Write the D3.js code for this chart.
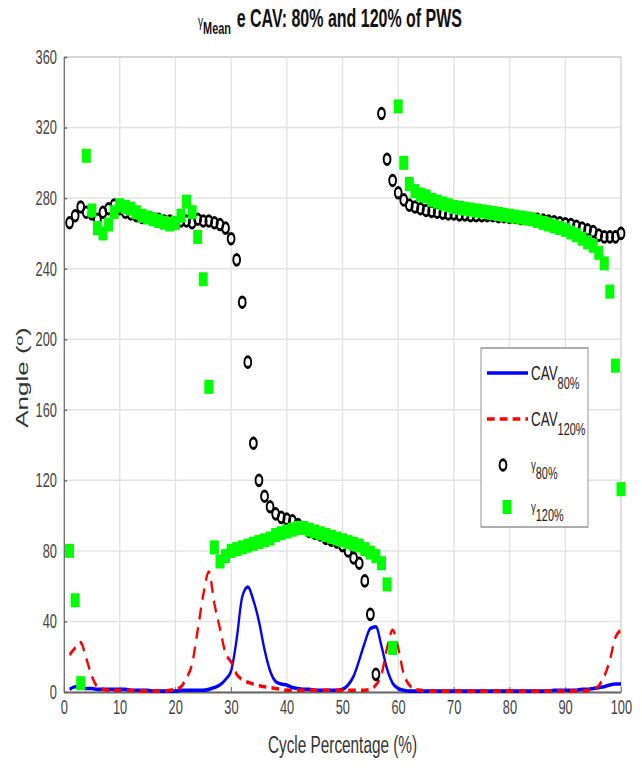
<!DOCTYPE html>
<html>
<head>
<meta charset="utf-8">
<script src="https://cdn.jsdelivr.net/npm/d3@7"></script>
<style>
  body { margin: 0; background: #fff; }
  svg { display: block; }
  text { font-family: "Liberation Sans", Arial, sans-serif; }
</style>
</head>
<body>
<svg id="chart" width="642" height="776"></svg>
<script>
// ====================================
// Données
// ====================================
const cycle = d3.range(1, 101);   // % du cycle, 1..100

const cav80 = [
  1.5, 3, 2.5, 2, 2, 1.5, 1.5, 1.5, 1.5, 1.5,
  1.5, 1, 1, 1, 1, 0.5, 0.5, 0.5, 0.5, 0.5,
  1, 1, 1, 1, 1, 1.5, 2.5, 4, 7, 12,
  30, 54, 59.5, 52, 40, 24, 12, 6, 4.5, 4,
  2.5, 2, 1.5, 1.5, 1, 1, 1, 1, 1, 1.5,
  4, 9, 18, 28, 36, 37, 26, 13, 5, 2,
  1, 0.5, 0.5, 0.5, 0.5, 0.5, 0.5, 0.5, 0.5, 0.5,
  0.5, 0.5, 0.5, 0.5, 0.5, 0.5, 0.5, 0.5, 0.5, 0.5,
  0.5, 0.5, 0.5, 0.5, 0.5, 0.5, 0.5, 1, 1, 1,
  1, 1, 1.5, 1.5, 2, 2.5, 3, 4, 4.5, 4.5
];

const cav120 = [
  21, 25, 28, 19, 9, 3, 1.5, 1, 1, 1,
  1, 1, 0.5, 0.5, 0.5, 0.5, 0.5, 0.5, 1, 1.5,
  3, 8, 16, 35, 55, 68, 50, 36, 22, 17,
  10, 7, 5.5, 4.5, 3.5, 3, 2.5, 2, 1.5, 1,
  1, 1, 1, 1, 1, 1, 1, 1, 1, 1,
  1, 1, 1, 1, 1.5, 4, 10, 25, 35, 25,
  10, 4, 1.5, 1, 0.5, 0.5, 0.5, 0.5, 0.5, 0.5,
  0.5, 0.5, 0.5, 0.5, 0.5, 0.5, 0.5, 0.5, 0.5, 0.5,
  0.5, 0.5, 0.5, 0.5, 0.5, 0.5, 0.5, 0.5, 0.5, 0.5,
  0.5, 0.5, 0.5, 1, 1.5, 3.5, 9, 18, 31, 35
];

const gamma80 = [
  266, 270, 275, 272, 271, 268, 272, 274, 276, 274,
  272, 271, 270, 269, 269, 268, 268, 267, 267, 266,
  267, 267, 266, 268, 267, 267, 266, 265, 263, 257,
  245, 221, 187, 141, 120, 111, 105, 101, 99, 98,
  97, 95, 93, 91, 90, 89, 87, 86, 85, 83,
  80, 76, 73, 63, 44, 10, 328, 302, 290, 283,
  279, 276, 275, 274, 273, 272.5, 272, 271.5, 271, 271,
  270.5, 270.5, 270, 270, 270, 270, 270, 269.5, 269.5, 269,
  269, 268.5, 268.5, 268, 268, 267.5, 267, 266.5, 266, 265.5,
  265, 264, 263, 262, 261, 259, 258, 258, 258, 260
];

const gamma120 = [
  80, 52, 5, 304, 273, 263, 260, 265, 272, 276,
  275, 274, 272, 270, 269, 268, 267, 266, 265, 266,
  270, 278, 272, 258, 234, 173, 82, 74, 77, 80,
  81, 82, 83, 84, 85, 86, 87, 89, 90, 91,
  92, 93, 93, 92, 91, 90, 89, 88, 87, 86,
  85, 84, 83, 81, 79, 77, 73, 61, 25, 332,
  300, 288, 284, 282, 281, 279, 278, 277, 276, 275,
  274.5, 274, 273.5, 273, 272.5, 272, 271.5, 271, 270.5, 270,
  269.5, 269, 268.5, 268, 267, 266, 265, 264, 263, 262,
  260.5, 259, 257, 255, 253, 249, 243, 227, 185, 115
];

const xTicks = [0, 10, 20, 30, 40, 50, 60, 70, 80, 90, 100];
const yTicks = [0, 40, 80, 120, 160, 200, 240, 280, 320, 360];

// ====================================
// Mise en page
// ====================================
const SX = 0.64;                // la figure d'origine est compressée horizontalement
const W = 642 / SX, H = 776;
const plot = { left: 64 / SX, right: 621 / SX, top: 57, bottom: 692 };

const svg = d3.select("#chart");
const g = svg.append("g").attr("transform", `scale(${SX},1)`);

const x = d3.scaleLinear().domain([0, 100]).range([plot.left, plot.right]);
const y = d3.scaleLinear().domain([0, 360]).range([plot.bottom, plot.top]);

// grille
g.append("g").selectAll("line").data(xTicks).join("line")
    .attr("x1", d => x(d)).attr("x2", d => x(d))
    .attr("y1", plot.top).attr("y2", plot.bottom)
    .attr("stroke", "#e3e3e3").attr("stroke-width", 2.2);
g.append("g").selectAll("line").data(yTicks).join("line")
    .attr("x1", plot.left).attr("x2", plot.right)
    .attr("y1", d => y(d)).attr("y2", d => y(d))
    .attr("stroke", "#e3e3e3").attr("stroke-width", 1.5);

// cadre haut / droite
g.append("path")
    .attr("d", `M${plot.left},${plot.top}H${plot.right}V${plot.bottom}`)
    .attr("fill", "none").attr("stroke", "#d0d0d0").attr("stroke-width", 1.5);

// axes
const xAxis = g.append("g")
    .attr("transform", `translate(0,${plot.bottom})`)
    .call(d3.axisBottom(x).tickValues(xTicks).tickSizeInner(-5).tickSizeOuter(0).tickPadding(8));
const yAxis = g.append("g")
    .attr("transform", `translate(${plot.left},0)`)
    .call(d3.axisLeft(y).tickValues(yTicks).tickSizeInner(-5).tickSizeOuter(0).tickPadding(11));

[xAxis, yAxis].forEach(ax => {
    ax.select(".domain").attr("stroke", "#666").attr("stroke-width", 1.8);
    ax.selectAll(".tick line").attr("stroke", "#666").attr("stroke-width", 1.4);
    ax.selectAll(".tick text")
        .attr("fill", "#444")
        .style("font-size", "20px");
});

// ====================================
// Séries
// ====================================
const line = d3.line()
    .x((d, i) => x(cycle[i]))
    .y(d => y(d))
    .curve(d3.curveMonotoneX);

g.append("path").datum(cav80)
    .attr("d", line)
    .attr("fill", "none").attr("stroke", "#0000ff").attr("stroke-width", 3.6);

g.append("path").datum(cav120)
    .attr("d", line)
    .attr("fill", "none").attr("stroke", "#ff0000").attr("stroke-width", 3.6)
    .attr("stroke-dasharray", "12,8");

const cr = 5.3;
g.append("g").selectAll("circle").data(gamma80).join("circle")
    .attr("cx", (d, i) => x(cycle[i]))
    .attr("cy", d => y(d))
    .attr("r", cr)
    .attr("fill", "none").attr("stroke", "#000").attr("stroke-width", 3);

const sq = 14;
g.append("g").selectAll("rect").data(gamma120).join("rect")
    .attr("x", (d, i) => x(cycle[i]) - sq / 2)
    .attr("y", d => y(d) - sq / 2)
    .attr("width", sq).attr("height", sq)
    .attr("fill", "#00ff00");

// ====================================
// Légende
// ====================================
const lg = g.append("g");
lg.append("rect")
    .attr("x", 481 / SX).attr("y", 348)
    .attr("width", 107 / SX).attr("height", 179)
    .attr("fill", "#fff").attr("stroke", "#999").attr("stroke-width", 1.6);

const lx0 = 487 / SX, lx1 = 528 / SX, tx = 531 / SX;
lg.append("line").attr("x1", lx0).attr("x2", lx1).attr("y1", 373).attr("y2", 373)
    .attr("stroke", "#0000ff").attr("stroke-width", 3.6);
lg.append("line").attr("x1", lx0).attr("x2", lx1).attr("y1", 419).attr("y2", 419)
    .attr("stroke", "#ff0000").attr("stroke-width", 3.6).attr("stroke-dasharray", "12,8");
lg.append("circle").attr("cx", 503 / SX).attr("cy", 465).attr("r", cr)
    .attr("fill", "none").attr("stroke", "#000").attr("stroke-width", 3);
lg.append("rect").attr("x", 507 / SX - sq / 2).attr("y", 507 - sq / 2)
    .attr("width", sq).attr("height", sq).attr("fill", "#00ff00");

const legendLabels = [
    { main: "CAV", sub: "80%", y: 380, size: 21 },
    { main: "CAV", sub: "120%", y: 426, size: 21 },
    { main: "γ", sub: "80%", y: 470, size: 15 },
    { main: "γ", sub: "120%", y: 512, size: 15 }
];
legendLabels.forEach(l => {
    const t = lg.append("text").attr("x", tx).attr("y", l.y)
        .attr("fill", "#222").style("font-size", l.size + "px");
    t.append("tspan").text(l.main);
    t.append("tspan").attr("dy", 9).style("font-size", "17px").text(l.sub);
});

// ====================================
// Titres
// ====================================
const title = g.append("text")
    .attr("x", 198 / SX).attr("y", 27)
    .attr("fill", "#111");
title.append("tspan").style("font-size", "16px").text("γ");
title.append("tspan").attr("dy", 7).style("font-size", "17px").style("font-weight", "bold").text("Mean");
title.append("tspan").attr("dy", -7).attr("dx", 9).style("font-size", "25px").style("font-weight", "bold")
    .text("e CAV: 80% and 120% of PWS");

g.append("text")
    .attr("x", x(50)).attr("y", 753)
    .attr("text-anchor", "middle")
    .attr("fill", "#333")
    .style("font-size", "24px")
    .text("Cycle Percentage (%)");

g.append("text")
    .attr("transform", `translate(${28 / SX},${(plot.top + plot.bottom) / 2 + 3}) rotate(-90)`)
    .attr("text-anchor", "middle")
    .attr("fill", "#333")
    .style("font-size", "26px")
    .text("Angle (º)");
</script>
</body>
</html>
